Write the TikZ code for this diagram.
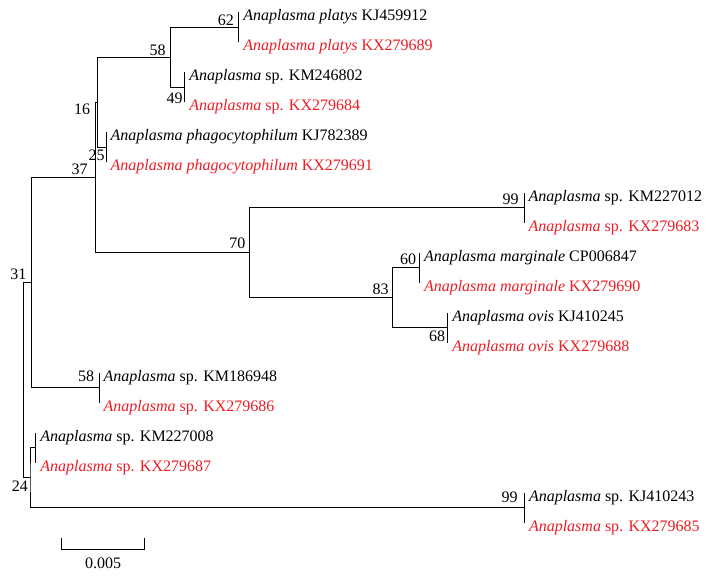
\documentclass[tikz,border=0pt]{standalone}
\usepackage{fontspec}
\setmainfont{Liberation Serif}
\definecolor{newseq}{RGB}{235,28,36}
\tikzset{
  branch/.style={line width=1pt},
  tip/.style={anchor=base west,inner sep=0pt,font=\fontsize{16}{18}\selectfont},
  newtip/.style={tip,text=newseq},
  boot/.style={inner sep=0pt,font=\fontsize{16}{18}\selectfont},
}
\begin{document}
\begin{tikzpicture}[x=1pt,y=-1pt]
\useasboundingbox (0,0) rectangle (711,580);
% tip pairs: known sequence above, new sequence (red) below
\foreach \nm/\x/\k/\gen/\old/\new in {
    c689/238.7/0/Anaplasma platys/KJ459912/KX279689,
    c684/184.7/1/Anaplasma/sp. KM246802/sp. KX279684,
    c691/106/2/Anaplasma phagocytophilum/KJ782389/KX279691,
    c683/524/3/Anaplasma/sp. KM227012/sp. KX279683,
    c690/419.3/4/Anaplasma marginale/CP006847/KX279690,
    c688/447.7/5/Anaplasma ovis/KJ410245/KX279688,
    c686/99/6/Anaplasma/sp. KM186948/sp. KX279686,
    c687/35.7/7/Anaplasma/sp. KM227008/sp. KX279687,
    c685/524.3/8/Anaplasma/sp. KJ410243/sp. KX279685}{
  \coordinate (\nm) at (\x,27.5+60*\k);
  \coordinate (\nm-top) at (\x,12.5+60*\k);
  \coordinate (\nm-bot) at (\x,42.5+60*\k);
  \draw[branch] (\nm-top) -- (\nm-bot);
  \node[tip] (\nm-old) at (\x+4.5,21+60*\k) {\textit{\gen} \old};
  \node[newtip] (\nm-new) at (\x+4.5,51+60*\k) {\textit{\gen} \new};
}
% inner nodes
\coordinate (b58) at (170.7,57.5);
\coordinate (b16) at (97.3,102.5);
\coordinate (b37) at (95.3,177.5);
\coordinate (b70) at (249.3,252.5);
\coordinate (b83) at (392.3,297.5);
\coordinate (b31) at (31.7,282.5);
\coordinate (b24) at (30,477.5);
\coordinate (root) at (23.3,380);
\draw[branch] (c689) -| (b58) |- (c684);
\draw[branch] (b58) -| (b16) |- (c691);
\draw[branch] (b16) -| (b37) |- (b70);
\draw[branch] (c683) -| (b70) |- (b83);
\draw[branch] (c690) -| (b83) |- (c688);
\draw[branch] (b37) -| (b31) |- (c686);
\draw[branch] (c687) -| (b24) |- (c685);
\draw[branch] (b31) -| (root) |- (b24);
% bootstrap values
\node[boot] (l62) at (225.8,20.5) {62};
\node[boot] (l58) at (157.5,50) {58};
\node[boot] (l49) at (174.7,98) {49};
\node[boot] (l16) at (82,109) {16};
\node[boot] (l25) at (96.7,155.7) {25};
\node[boot] (l37) at (79.5,168.8) {37};
\node[boot] (l70) at (237.3,243.2) {70};
\node[boot] (l99) at (510.5,199.2) {99};
\node[boot] (l60) at (408,259.7) {60};
\node[boot] (l83) at (380.7,289.3) {83};
\node[boot] (l68) at (437,336.5) {68};
\node[boot] (l31) at (18.3,274.7) {31};
\node[boot] (l58b) at (86,376.7) {58};
\node[boot] (l24) at (20,486) {24};
\node[boot] (l99b) at (509.7,497.5) {99};
% scale bar
\coordinate (sb-l) at (61.7,549);
\coordinate (sb-r) at (144,549);
\draw[branch] ([yshift=11pt]sb-l) -- (sb-l) -- (sb-r) -- ([yshift=11pt]sb-r);
\node[boot] (sb) at (103,563.5) {0.005};
\end{tikzpicture}
\end{document}
